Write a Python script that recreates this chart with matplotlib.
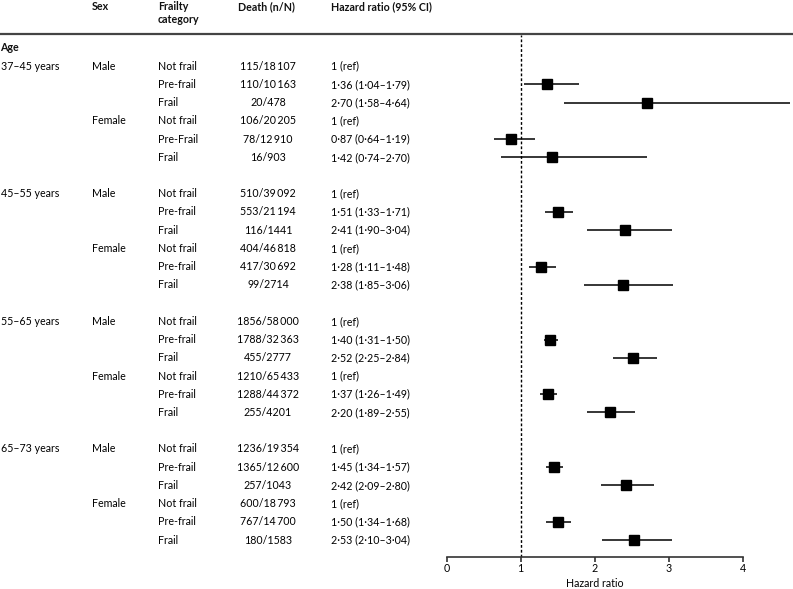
import matplotlib.pyplot as plt
from matplotlib.transforms import blended_transform_factory
from matplotlib.lines import Line2D

plt.rcParams['font.family'] = ['Lato', 'DejaVu Sans']
plt.rcParams['font.size'] = 7.7

age_groups = ['37\u201345 years', '45\u201355 years', '55\u201365 years', '65\u201373 years']
sexes = ['Male', 'Female']
categories = ['Not frail', 'Pre-frail', 'Frail', 'Not frail', 'Pre-Frail', 'Frail',
              'Not frail', 'Pre-frail', 'Frail', 'Not frail', 'Pre-frail', 'Frail',
              'Not frail', 'Pre-frail', 'Frail', 'Not frail', 'Pre-frail', 'Frail',
              'Not frail', 'Pre-frail', 'Frail', 'Not frail', 'Pre-frail', 'Frail']
deaths = ['115/18\u2009107', '110/10\u2009163', '20/478', '106/20\u2009205', '78/12\u2009910', '16/903',
          '510/39\u2009092', '553/21\u2009194', '116/1441', '404/46\u2009818', '417/30\u2009692', '99/2714',
          '1856/58\u2009000', '1788/32\u2009363', '455/2777', '1210/65\u2009433', '1288/44\u2009372', '255/4201',
          '1236/19\u2009354', '1365/12\u2009600', '257/1043', '600/18\u2009793', '767/14\u2009700', '180/1583']
hr = [1, 1.36, 2.70, 1, 0.87, 1.42,
      1, 1.51, 2.41, 1, 1.28, 2.38,
      1, 1.40, 2.52, 1, 1.37, 2.20,
      1, 1.45, 2.42, 1, 1.50, 2.53]
lo = [None, 1.04, 1.58, None, 0.64, 0.74,
      None, 1.33, 1.90, None, 1.11, 1.85,
      None, 1.31, 2.25, None, 1.26, 1.89,
      None, 1.34, 2.09, None, 1.34, 2.10]
hi = [None, 1.79, 4.64, None, 1.19, 2.70,
      None, 1.71, 3.04, None, 1.48, 3.06,
      None, 1.50, 2.84, None, 1.49, 2.55,
      None, 1.57, 2.80, None, 1.68, 3.04]


def fmt(v):
    return f'{v:.2f}'.replace('.', '\u00b7')


W, H = 793, 589
fig = plt.figure(figsize=(W / 100, H / 100), dpi=100)
ax = fig.add_axes([446.5 / W, (H - 557) / H, 1 - 446.5 / W, (557 - 35) / H])
ax.set_xlim(0, (W - 446.5) / 74.1)
ax.set_ylim(27.93, -0.71)

# row positions: 6 rows per age group, one blank row between groups
rows = []
for g in range(4):
    rows += [1 + g * 7 + k for k in range(6)]

tr = blended_transform_factory(fig.transFigure, ax.transData)

# header
hdr = dict(transform=tr, fontweight='bold', va='center', ha='left', color='#111111')
ax.text(92 / W, -2.25, 'Sex', **hdr)
ax.text(158 / W, -2.25, 'Frailty', **hdr)
ax.text(158 / W, -1.55, 'category', **hdr)
ax.text(238 / W, -2.25, 'Death (n/N)', **hdr)
ax.text(331 / W, -2.25, 'Hazard ratio (95% CI)', **hdr)
fig.add_artist(Line2D([0, 1], [-0.77, -0.77], transform=tr, color='#444444', lw=1.6))
ax.text(0, 0, 'Age', **hdr)

for g, age in enumerate(age_groups):
    ax.text(1 / W, rows[g * 6], age, transform=tr, va='center')
    for s, sex in enumerate(sexes):
        ax.text(92 / W, rows[g * 6 + s * 3], sex, transform=tr, va='center')

for i, y in enumerate(rows):
    ax.text(158 / W, y, categories[i], transform=tr, va='center')
    ax.text(268 / W, y, deaths[i], transform=tr, va='center', ha='center')
    if lo[i] is None:
        label = '1 (ref)'
    else:
        label = f'{fmt(hr[i])} ({fmt(lo[i])}\u2013{fmt(hi[i])})'
    ax.text(331 / W, y, label, transform=tr, va='center')
    if lo[i] is not None:
        ax.plot([lo[i], hi[i]], [y, y], color='black', lw=1.1, solid_capstyle='butt')
        ax.plot(hr[i], y, marker='s', color='black', ms=7)

ax.axvline(1, color='black', lw=1, ls=(0, (2, 1.5)))

for sp in ['top', 'right', 'left']:
    ax.spines[sp].set_visible(False)
ax.spines['bottom'].set_bounds(0, 4)
ax.spines['bottom'].set_linewidth(1.2)
ax.spines['bottom'].set_color('#333333')
ax.set_yticks([])
ax.set_xticks([0, 1, 2, 3, 4])
ax.set_xticklabels(['0', '1', '2', '3', '4'])
ax.tick_params(axis='x', direction='out', length=3.6, width=1.2, color='#333333', pad=1)
ax.set_xlabel('Hazard ratio')
ax.xaxis.set_label_coords(2 / ax.get_xlim()[1], -0.04)

fig.savefig('out.png', dpi=100)
